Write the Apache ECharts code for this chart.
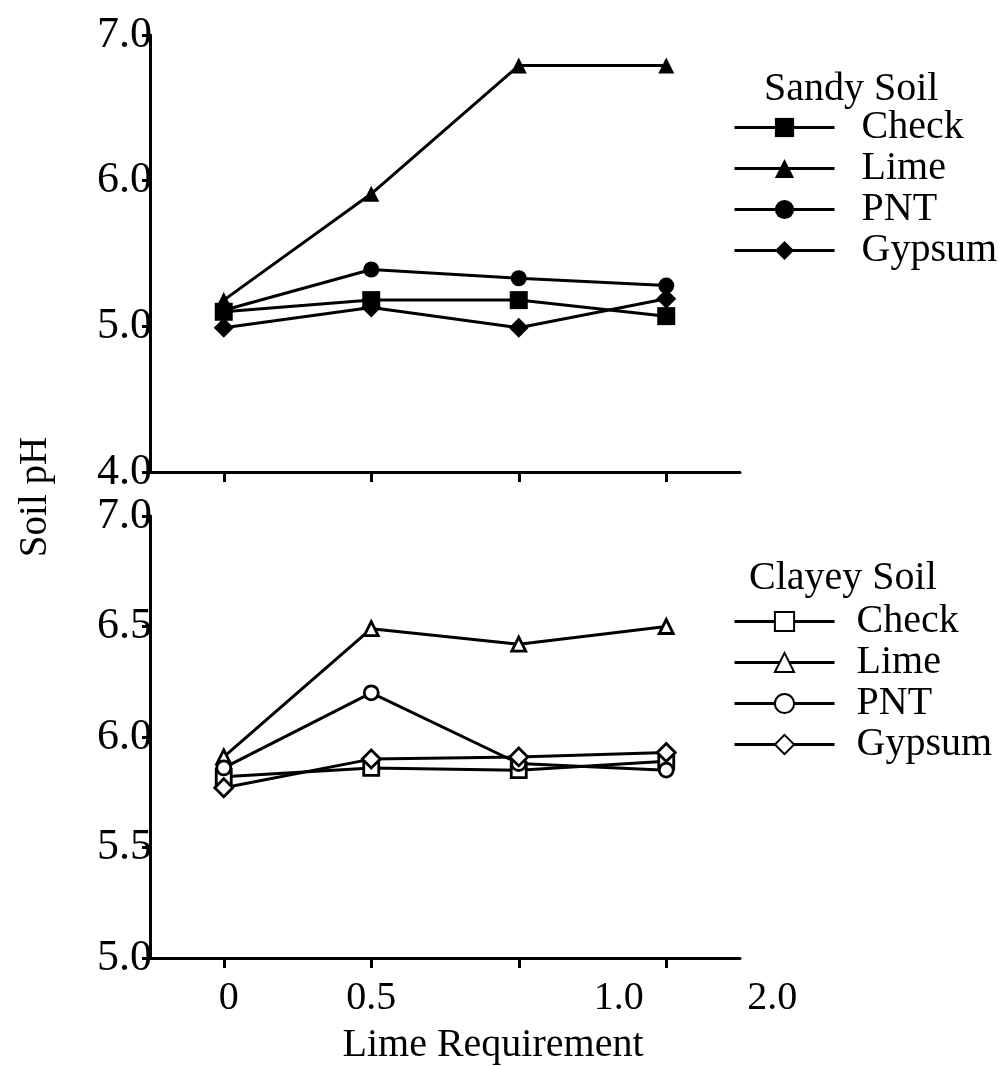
<!DOCTYPE html>
<html><head><meta charset="utf-8">
<script src="https://cdn.jsdelivr.net/npm/echarts@6/dist/echarts.min.js"></script>
<style>html,body{margin:0;padding:0;background:#fff}#c{width:999px;height:1066px}</style>
</head><body><div id="c"></div>
<script>
// ---- data ----
const categories = ['0', '0.5', '1.0', '2.0'];
const sandyCheck  = [5.10, 5.18, 5.18, 5.07];
const sandyLime   = [5.18, 5.91, 6.79, 6.79];
const sandyPNT    = [5.11, 5.39, 5.33, 5.28];
const sandyGypsum = [4.99, 5.13, 4.99, 5.19];
const clayCheck   = [5.82, 5.86, 5.85, 5.89];
const clayLime    = [5.91, 6.49, 6.42, 6.50];
const clayPNT     = [5.86, 6.20, 5.88, 5.85];
const clayGypsum  = [5.77, 5.90, 5.91, 5.93];
const treatments  = ['Check', 'Lime', 'PNT', 'Gypsum'];

const FONT = "'Liberation Serif', 'Times New Roman', serif";
const chart = echarts.init(document.getElementById('c'), null, {renderer: 'canvas'});

function mk(name, data, symbol, size, hollow, idx) {
  return {
    name: name, type: 'line', xAxisIndex: idx, yAxisIndex: idx, data: data,
    symbol: symbol, symbolSize: size, showAllSymbol: true,
    lineStyle: {color: '#000', width: 3},
    itemStyle: {color: hollow ? '#fff' : '#000', borderColor: '#000', borderWidth: hollow ? 2.8 : 0},
    emphasis: {disabled: true}, silent: true
  };
}

const labelShift = [10, 0, 200, 212];

const yLabel = {color: '#000', fontFamily: FONT, fontSize: 44, margin: -2,
  formatter: v => v.toFixed(1)};
const axisLine = {show: true, lineStyle: {color: '#000', width: 3}};
const axisTick = {show: true, length: 8, lineStyle: {color: '#000', width: 3}};

const richX = {};
labelShift.forEach((p, i) => {
  richX['a' + i] = {fontFamily: FONT, fontSize: 40, color: '#000', padding: [0, 0, 0, p]};
});

const legendBase = {orient: 'vertical', left: 733, padding: 0, itemWidth: 100, itemHeight: 24, itemGap: 0,
  selectedMode: false, formatter: n => n.split(':')[1],
  lineStyle: {width: 3, color: '#000'}};

const option = {
  animation: false,
  backgroundColor: '#fff',
  grid: [
    {left: 150, top: 35, width: 590, height: 437},
    {left: 150, top: 516, width: 590, height: 442}
  ],
  xAxis: [
    {type: 'category', gridIndex: 0, data: categories, boundaryGap: true,
     axisLine: axisLine, axisTick: Object.assign({}, axisTick, {alignWithLabel: true, length: 10}),
     axisLabel: {show: false}, splitLine: {show: false}},
    {type: 'category', gridIndex: 1, data: categories, boundaryGap: true,
     axisLine: axisLine, axisTick: Object.assign({}, axisTick, {alignWithLabel: true, length: 10}),
     axisLabel: {color: '#000', fontFamily: FONT, fontSize: 40, margin: 20, interval: 0, hideOverlap: false,
       formatter: (v, i) => '{a' + i + '|' + v + '}', rich: richX},
     splitLine: {show: false}}
  ],
  yAxis: [
    {type: 'value', gridIndex: 0, min: 4, max: 7, interval: 1,
     axisLine: axisLine, axisTick: axisTick, axisLabel: yLabel, splitLine: {show: false}},
    {type: 'value', gridIndex: 1, min: 5, max: 7, interval: 0.5,
     axisLine: axisLine, axisTick: axisTick, axisLabel: yLabel, splitLine: {show: false}}
  ],
  title: [
    {text: 'Sandy Soil', left: 764, top: 69, padding: 0,
     textStyle: {fontFamily: FONT, fontSize: 40, fontWeight: 'normal', color: '#000'}},
    {text: 'Clayey Soil', left: 749, top: 558, padding: 0,
     textStyle: {fontFamily: FONT, fontSize: 40, fontWeight: 'normal', color: '#000'}}
  ],
  legend: [
    Object.assign({}, legendBase, {top: 107, data: treatments.map(t => 'S:' + t),
     textStyle: {fontFamily: FONT, fontSize: 40, color: '#000', lineHeight: 41, padding: [0, 0, 0, 22]}}),
    Object.assign({}, legendBase, {top: 601, data: treatments.map(t => 'C:' + t),
     textStyle: {fontFamily: FONT, fontSize: 40, color: '#000', lineHeight: 41, padding: [0, 0, 0, 17]}})
  ],
  graphic: [
    {type: 'text', x: 36, y: 497, rotation: Math.PI / 2,
     style: {text: 'Soil pH', fontFamily: FONT, fontSize: 39, fill: '#000', align: 'center', verticalAlign: 'middle'}},
    {type: 'text', x: 493, y: 1045,
     style: {text: 'Lime Requirement', fontFamily: FONT, fontSize: 40, fill: '#000', align: 'center', verticalAlign: 'middle'}}
  ],
  series: [
    mk('S:Check', sandyCheck, 'rect', 18, false, 0),
    mk('S:Lime', sandyLime, 'triangle', 16, false, 0),
    mk('S:PNT', sandyPNT, 'circle', 16, false, 0),
    mk('S:Gypsum', sandyGypsum, 'diamond', 20, false, 0),
    mk('C:Check', clayCheck, 'rect', 15, true, 1),
    mk('C:Lime', clayLime, 'triangle', 14, true, 1),
    mk('C:PNT', clayPNT, 'circle', 14, true, 1),
    mk('C:Gypsum', clayGypsum, 'diamond', 18, true, 1)
  ]
};
chart.setOption(option);
</script>
</body></html>
